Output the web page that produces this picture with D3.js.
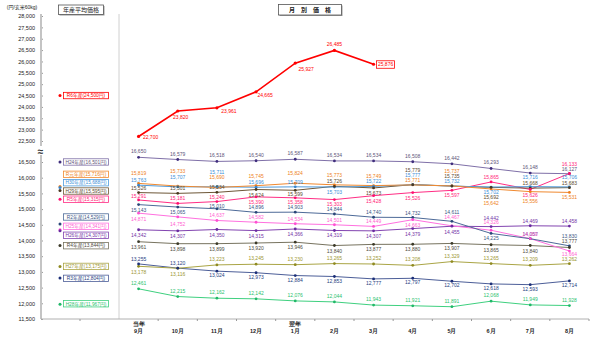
<!DOCTYPE html>
<html>
<head>
<meta charset="utf-8">
<script src="https://cdnjs.cloudflare.com/ajax/libs/d3/7.8.5/d3.min.js"></script>
<style>
  body { margin: 0; background: #fff; }
  svg { display: block; font-family: "Liberation Sans", Arial, "Noto Sans CJK JP", sans-serif; }
</style>
</head>
<body>
<div id="chart"></div>
<script>
// months (crop year runs Sep -> Aug)
var months = ["9月", "10月", "11月", "12月", "1月", "2月", "3月", "4月", "5月", "6月", "7月", "8月"];
var yearTags = ["当年", "", "", "", "翌年", "", "", "", "", "", "", ""];

var upperTicks = d3.range(22500, 28001, 500);
var lowerTicks = d3.range(11500, 16501, 500);

// monthly prices (yen / 60kg brown rice)
var r6  = [22700, 23820, 23961, 24665, 25927, 26485, 25876];
var h24 = [16650, 16579, 16518, 16540, 16587, 16534, 16534, 16508, 16442, 16293, 16148, 16127];
var r1  = [15819, 15733, 15690, 15745, 15824, 15773, 15749, 15771, 15737, 15642, 15556, 15531];
var h30 = [15763, 15707, 15711, 15696, 15709, 15703, 15722, 15777, 15732, 15702, 15716, 15706];
var h29 = [15526, 15501, 15534, 15624, 15599, 15726, 15673, 15779, 15735, 15692, 15668, 15683];
var r5  = [15291, 15181, 15240, 15390, 15358, 15303, 15428, 15526, 15597, 15865, 15626, 16133];
var r2  = [15143, 15065, 15010, 14896, 14903, 14844, 14740, 14732, 14611, 14225, 14057, 13830];
var h25 = [14871, 14752, 14637, 14582, 14534, 14501, 14449, 14663, 14467, 14326, 14060, 13664];
var h26 = [14342, 14307, 14350, 14315, 14366, 14319, 14307, 14379, 14455, 14442, 14469, 14458];
var r4  = [13961, 13898, 13899, 13920, 13946, 13840, 13877, 13880, 13907, 13865, 13840, 13777];
var h27 = [13178, 13116, 13223, 13245, 13230, 13265, 13252, 13208, 13329, 13265, 13209, 13262];
var r3  = [13255, 13120, 13024, 12973, 12884, 12853, 12777, 12797, 12702, 12618, 12593, 12714];
var h28 = [12461, 12215, 12162, 12142, 12076, 12044, 11943, 11921, 11891, 12068, 11949, 11928];

// yearly averages
var cropYears = ["R6年産", "H24年産", "R元年産", "H30年産", "H29年産", "R5年産", "R2年産",
                 "H25年産", "H26年産", "R4年産", "H27年産", "R3年産", "H28年産"];
var yearAverages = [24500, 16501, 15716, 15688, 15595, 15315, 14529, 14341, 14307, 13844, 13175, 12804, 11967];

// styles
var series = [
  {values: r6,  line: "#ff0000", dot: "#ff0000", text: "#ff0000", upper: true},
  {values: h24, line: "#7f70a8", dot: "#3f2d7c", text: "#5e5478"},
  {values: r1,  line: "#f0892f", dot: "#f07d1a", text: "#ee7f22"},
  {values: h30, line: "#4f9bdc", dot: "#3a86cc", text: "#3b8fd8"},
  {values: h29, line: "#6d5636", dot: "#4a3820", text: "#5c4a2e"},
  {values: r5,  line: "#ff2d84", dot: "#ff0f6f", text: "#ff2478"},
  {values: r2,  line: "#4d6a98", dot: "#2a4678", text: "#3a5585"},
  {values: h25, line: "#ff70df", dot: "#ff4fd2", text: "#ff5fd2"},
  {values: h26, line: "#8244b0", dot: "#6a2aa0", text: "#7434a6"},
  {values: r4,  line: "#77735f", dot: "#3b3928", text: "#4d4a3c"},
  {values: h27, line: "#aaa545", dot: "#8f8a20", text: "#9c9632"},
  {values: r3,  line: "#4c5e98", dot: "#1c2f78", text: "#243d80"},
  {values: h28, line: "#3fd07f", dot: "#20b868", text: "#2bbf6e"}
];

// value label baseline offsets (px) for the lower series, same order as series[1..]
var labelDy = [
  [-4, -4, -4, -4, -4, -4, -4, -4, -4, -4, -4, -3],
  [-8, -13, -8, -8, -8, -8, -8, -3, -13, 16, 11, 7],
  [-3, -8, -13, -3, -3, 7, -3, -8, -3, 7, -8, -8],
  [-3, -3, -3, 7, 6, -3, 7, -13, -8, 12, -3, -3],
  [-2, -3, -3, 7, 6, 6, 7, 7, 7, -3, 8, -8],
  [7, 7, -1, -3, -3, -3, -3, -3, -7, 7, -3, -8],
  [8, 9, -3, -3, -3, -3, -3, 7, -7, -6, -3, 4.5],
  [7, 7, 7, 7, 7, 7, 7, 7, 8, -7, -3, -3],
  [7, 7, 7, 7, 7, 7, 7, 7, 7, 7, 7, -5],
  [8, 8, -4, -4, -4, -4, -4, -4, -4, -4, -4, -3],
  [-3, -3, 6, 6, 6, 6, 6, 6, 6, 6, 6, 6],
  [-4, -4, -4, -4, -4, -4, -4, -4, -4, -4, -4, -4]
];
// R6 labels: offsets from point
var r6Dx = [12, 3, 12, 9, 11, 0, 12];
var r6Dy = [2.5, 7.5, 5, 5, 7.5, -4, 2];
// legend box nudges so that boxes do not overlap
var legendNudge = [0, 0, -12.3, -4.8, 0.6, 0, -6.9, -3.5, 4.4, 0.3, 0, 0.3, -0.6];

var W = 600, H = 337;
var svg = d3.select("#chart").append("svg").attr("width", W).attr("height", H);

var axisX = 41, plotRight = 589, panelRight = 119, baseY = 319;

var x = d3.scaleBand().domain(months).range([panelRight, plotRight]);
var xc = function(i) { return x(months[i]) + x.bandwidth() / 2; };
var yTop = d3.scaleLinear().domain([22500, 28000]).range([141, 16]);
var yBot = d3.scaleLinear().domain([11500, 16500]).range([baseY, 162]);

// y axes
function yAxis(scale, ticks) {
  var g = svg.append("g").attr("transform", "translate(" + axisX + ",0)")
    .call(d3.axisLeft(scale).tickValues(ticks).tickSize(-2).tickPadding(6).tickFormat(d3.format(",")));
  g.select(".domain").remove();
  g.selectAll(".tick line").attr("stroke", "#999");
  g.selectAll(".tick text").attr("font-size", 5.5).attr("fill", "#222")
    .attr("font-family", "Liberation Sans, Arial, sans-serif");
}
yAxis(yTop, upperTicks);
yAxis(yBot, lowerTicks);

svg.append("line").attr("x1", axisX).attr("x2", axisX).attr("y1", 14).attr("y2", baseY)
  .attr("stroke", "#c4c4c4").attr("stroke-width", 2);
// separator between average panel and monthly panel
svg.append("line").attr("x1", panelRight).attr("x2", panelRight).attr("y1", 14).attr("y2", baseY)
  .attr("stroke", "#d0d0d0").attr("stroke-width", 1);

// axis break
svg.append("rect").attr("x", 36).attr("y", 146).attr("width", 10).attr("height", 9).attr("fill", "#fff");
svg.append("text").attr("x", axisX - 0.5).attr("y", 154.5).attr("text-anchor", "middle")
  .attr("font-size", 10).attr("font-weight", "bold").attr("fill", "#222").text("≈");

// x axis
var xg = svg.append("g").attr("transform", "translate(0," + baseY + ")")
  .call(d3.axisBottom(x).tickSize(0).tickFormat(""));
xg.select(".domain").remove();
svg.append("line").attr("x1", axisX).attr("x2", plotRight).attr("y1", baseY).attr("y2", baseY)
  .attr("stroke", "#b0b0b0").attr("stroke-width", 1);
var tickXs = [(axisX + panelRight) / 2].concat(months.map(function(m) { return x(m) + x.bandwidth(); }));
svg.selectAll(".xt").data(tickXs).enter().append("line")
  .attr("x1", function(d) { return d; }).attr("x2", function(d) { return d; })
  .attr("y1", baseY).attr("y2", baseY + 2).attr("stroke", "#999");
xg.selectAll(".tick").each(function(d, i) {
  var t = d3.select(this);
  t.select("text").remove();
  if (yearTags[i]) {
    t.append("text").attr("y", 7).attr("text-anchor", "middle").attr("font-size", 5.5)
      .attr("font-weight", "bold").attr("fill", "#222").text(yearTags[i]);
  }
  t.append("text").attr("y", 14).attr("text-anchor", "middle").attr("font-size", 5.5)
    .attr("font-weight", "bold").attr("fill", "#222").text(months[i]);
});

// unit label + panel titles
svg.append("text").attr("x", 22).attr("y", 8.5).attr("text-anchor", "middle")
  .attr("font-size", 5).attr("fill", "#222").text("(円/玄米60kg)");

function titleBox(x0, y0, w, h, label, bold) {
  svg.append("rect").attr("x", x0 + 1).attr("y", y0 + 1).attr("width", w).attr("height", h).attr("fill", "#999");
  svg.append("rect").attr("x", x0).attr("y", y0).attr("width", w).attr("height", h)
    .attr("fill", "#fff").attr("stroke", "#555").attr("stroke-width", 0.8);
  svg.append("text").attr("x", x0 + w / 2).attr("y", y0 + h / 2 + 2.1).attr("text-anchor", "middle")
    .attr("font-size", 6).attr("font-weight", bold ? "bold" : "normal").attr("fill", "#222").text(label);
}
titleBox(58.5, 5, 45, 9.5, "年産平均価格", false);
titleBox(278.5, 4.5, 63, 10.5, "月　別　価　格", true);

var fmt = d3.format(",");

// monthly lines
var lowerOrder = d3.range(1, series.length);
lowerOrder.slice().reverse().concat([0]).forEach(function(si) {
  var s = series[si];
  var ys = s.upper ? yTop : yBot;
  var line = d3.line().x(function(d, i) { return xc(i); }).y(function(d) { return ys(d); });
  svg.append("path").datum(s.values).attr("d", line).attr("fill", "none")
    .attr("stroke", s.line).attr("stroke-width", s.upper ? 1.6 : 1);
});

// dots + labels
series.forEach(function(s, si) {
  var ys = s.upper ? yTop : yBot;
  svg.append("g").selectAll("circle").data(s.values).enter().append("circle")
    .attr("cx", function(d, i) { return xc(i); })
    .attr("cy", function(d) { return ys(d); })
    .attr("r", s.upper ? 1.6 : 1.4).attr("fill", s.dot);
  var lab = svg.append("g").attr("font-size", 5).attr("fill", s.text).attr("text-anchor", "middle");
  s.values.forEach(function(v, i) {
    var px = xc(i), py = ys(v);
    if (s.upper) {
      lab.append("text").attr("x", px + r6Dx[i]).attr("y", py + r6Dy[i]).text(fmt(v));
      if (i === s.values.length - 1) {
        lab.append("rect").attr("x", px + r6Dx[i] - 9).attr("y", py + r6Dy[i] - 5.5)
          .attr("width", 18).attr("height", 7.5).attr("fill", "none")
          .attr("stroke", s.line).attr("stroke-width", 0.8);
      }
    } else {
      lab.append("text").attr("x", px).attr("y", py + labelDy[si - 1][i]).text(fmt(v));
    }
  });
});

// average panel: dots + boxed labels
series.forEach(function(s, si) {
  var ys = s.upper ? yTop : yBot;
  var avg = yearAverages[si];
  var dy = ys(avg);
  var by = dy + legendNudge[si];
  svg.append("circle").attr("cx", 60).attr("cy", dy).attr("r", 1.5).attr("fill", s.dot);
  svg.append("rect").attr("x", 63.5).attr("y", by - 3.2).attr("width", 45).attr("height", 6.4)
    .attr("fill", "#fff").attr("stroke", s.line).attr("stroke-width", 0.8);
  svg.append("text").attr("x", 86).attr("y", by + 1.8).attr("text-anchor", "middle")
    .attr("font-size", 4.8).attr("fill", s.text)
    .text(cropYears[si] + "(" + fmt(avg) + "円)");
});
</script>
</body>
</html>
